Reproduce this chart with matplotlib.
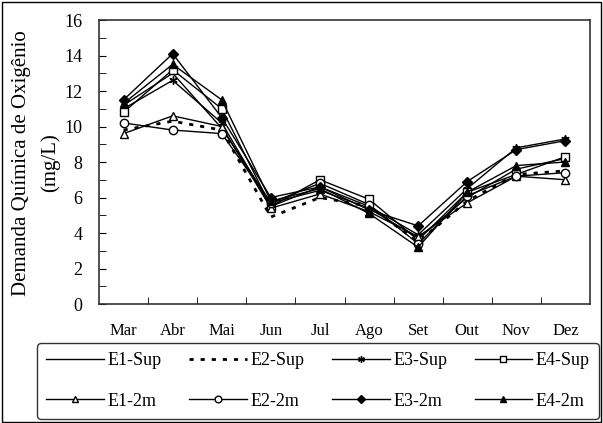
import matplotlib.pyplot as plt
from matplotlib.patches import Rectangle
from matplotlib.ticker import MultipleLocator, FixedLocator

plt.rcParams['font.family'] = ['Liberation Serif', 'DejaVu Serif']

months = ["Mar", "Abr", "Mai", "Jun", "Jul", "Ago", "Set", "Out", "Nov", "Dez"]

e1_sup = [11.2, 13.0, 9.9, 5.7, 6.4, 5.4, 3.7, 6.0, 7.6, 8.2]
e2_sup = [9.8, 10.3, 9.8, 4.9, 6.0, 5.5, 3.5, 5.8, 7.3, 7.5]
e3_sup = [11.0, 12.6, 10.2, 5.5, 6.6, 5.5, 3.9, 6.5, 8.8, 9.3]
e4_sup = [10.8, 13.2, 11.0, 5.5, 7.0, 5.9, 3.6, 6.3, 7.3, 8.3]
e1_2m = [9.6, 10.6, 10.0, 5.4, 6.2, 5.2, 3.8, 5.7, 7.2, 7.0]
e2_2m = [10.2, 9.8, 9.6, 5.7, 6.8, 5.6, 3.4, 6.1, 7.2, 7.4]
e3_2m = [11.5, 14.1, 10.5, 6.0, 6.6, 5.3, 4.4, 6.9, 8.7, 9.2]
e4_2m = [11.3, 13.5, 11.5, 5.8, 6.5, 5.1, 3.2, 6.3, 7.8, 8.0]

fig = plt.figure(figsize=(6.03, 4.23), dpi=100)
ax = fig.add_axes([99 / 603, 1 - 304 / 423, 491 / 603, 284 / 423])

x = list(range(len(months)))
kw = dict(color="black", linewidth=1.0, markersize=6)

h1s, = ax.plot(x, e1_sup, linestyle="-", label="E1-Sup", **kw)
h2s, = ax.plot(x, e2_sup, linestyle=(0, (1.5, 2.5)), label="E2-Sup", color="black", linewidth=2.0)
h3s, = ax.plot(x, e3_sup, linestyle="-", marker=(6, 2, 0), label="E3-Sup", **kw)
h4s, = ax.plot(x, e4_sup, linestyle="-", marker="s", markerfacecolor="white", label="E4-Sup", **kw)
h1m, = ax.plot(x, e1_2m, linestyle="-", marker="^", markerfacecolor="white", label="E1-2m", **kw)
h2m, = ax.plot(x, e2_2m, linestyle="-", marker="o", markerfacecolor="white", label="E2-2m", **kw)
h3m, = ax.plot(x, e3_2m, linestyle="-", marker="D", label="E3-2m", color="black", linewidth=1.0, markersize=5)
h4m, = ax.plot(x, e4_2m, linestyle="-", marker="^", label="E4-2m", **kw)

ax.set_xlim(-0.5, len(months) - 0.5)
ax.set_ylim(0, 16)

ax.set_xticks(x)
ax.set_xticklabels(months, fontsize=12)
ax.xaxis.set_minor_locator(FixedLocator([i + 0.5 for i in range(len(months) - 1)]))
ax.tick_params(axis="x", which="major", length=0, pad=14)
ax.tick_params(axis="x", which="minor", direction="in", length=5, top=False)

ax.yaxis.set_major_locator(MultipleLocator(2))
ax.yaxis.set_minor_locator(MultipleLocator(1))
ax.tick_params(axis="y", which="both", direction="in", length=5, labelsize=13, pad=12)

for s in ax.spines.values():
    s.set_linewidth(1.2)
    s.set_color("#333333")

fig.text(22 / 603, 1 - 163 / 423, "Demanda Química de Oxigênio",
         rotation=90, ha="center", va="center", fontsize=15)
fig.text(50 / 603, 1 - 163 / 423, "(mg/L)",
         rotation=90, ha="center", va="center", fontsize=15)

# row-wise legend order (matplotlib fills columns first)
handles = [h1s, h1m, h2s, h2m, h3s, h3m, h4s, h4m]
leg = fig.legend(handles=handles, labels=[h.get_label() for h in handles],
                 loc="center", ncol=4, mode="expand",
                 bbox_to_anchor=(37 / 603, 3 / 423, 562 / 603, 78 / 423),
                 borderaxespad=0, markerscale=0.8,
                 fontsize=13, handlelength=3.2, handletextpad=0.2,
                 columnspacing=0.6, frameon=True, fancybox=True,
                 labelspacing=1.3, borderpad=0.5)
leg.get_frame().set_edgecolor("black")
leg.get_frame().set_linewidth(1.0)

fig.patches.append(Rectangle((2 / 603, 1 / 423), 599 / 603, 420 / 423,
                             transform=fig.transFigure, fill=False,
                             edgecolor="black", linewidth=1.0))

fig.savefig("out.png", dpi=100)
